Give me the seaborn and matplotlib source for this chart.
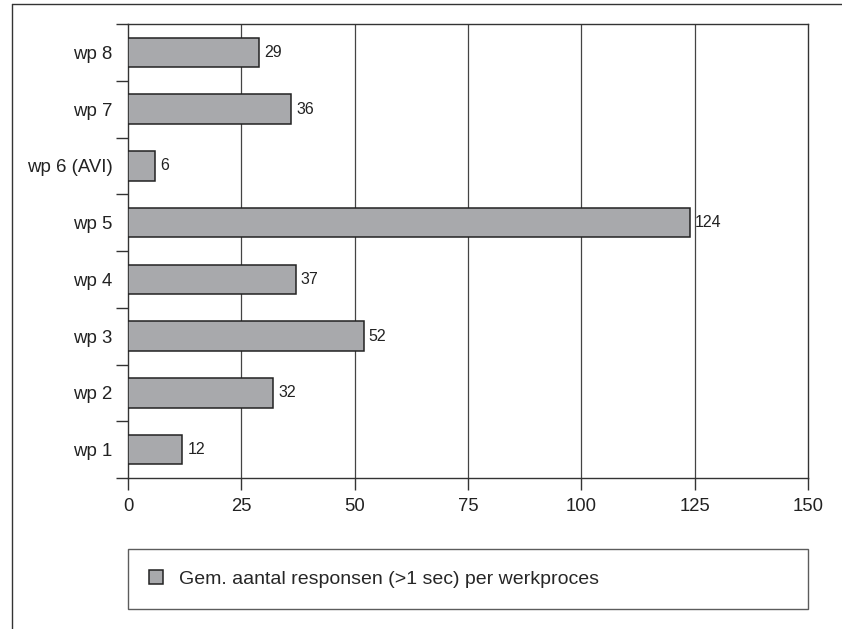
import matplotlib
matplotlib.use("Agg")
import matplotlib.pyplot as plt
from matplotlib.lines import Line2D
import seaborn as sns
import pandas as pd

categories = ["wp 8", "wp 7", "wp 6 (AVI)", "wp 5", "wp 4", "wp 3", "wp 2", "wp 1"]
values = [29, 36, 6, 124, 37, 52, 32, 12]
xticks = [0, 25, 50, 75, 100, 125, 150]
legend_label = "Gem. aantal responsen (>1 sec) per werkproces"

sns.set_theme(style="white")
plt.rcParams["font.family"] = ["Liberation Sans", "DejaVu Sans"]

df = pd.DataFrame({"cat": categories, "val": values})

fig = plt.figure(figsize=(8.42, 6.29), dpi=100)
ax = fig.add_axes([128 / 842, 1 - 478 / 629, (808 - 128) / 842, (478 - 24) / 629])

sns.barplot(data=df, y="cat", x="val", order=categories, color="#a8a9ac",
            saturation=1, edgecolor="#222222", linewidth=1.1, width=0.52,
            orient="h", ax=ax, label=legend_label, zorder=3)

ax.set_xlim(0, 150)
ax.set_ylim(len(categories) - 0.5, -0.5)
ax.set_xticks(xticks)
ax.set_xticklabels([str(t) for t in xticks], fontsize=13.3, color="#222222")
ax.tick_params(axis="x", direction="out", length=8.6, width=1, color="#333333", pad=6, bottom=True)

# y: major ticks on category boundaries, labels via minor ticks at centers
n = len(categories)
ax.set_yticks([i - 0.5 for i in range(n + 1)])
ax.set_yticklabels([""] * (n + 1))
ax.set_yticks(list(range(n)), minor=True)
ax.set_yticklabels(categories, minor=True, fontsize=13.4, color="#222222")
ax.tick_params(axis="y", which="major", direction="out", length=8.6, width=1, color="#333333", left=True)
ax.tick_params(axis="y", which="minor", length=0, pad=11)

ax.set_xlabel("")
ax.set_ylabel("")

for v in xticks[1:-1]:
    ax.axvline(v, color="#444444", lw=0.9, zorder=1)

for s in ax.spines.values():
    s.set_color("#333333")
    s.set_linewidth(1)
    s.set_visible(True)

for c in ax.containers:
    ax.bar_label(c, labels=[str(v) for v in values], padding=3.6, fontsize=11.5, color="#222222")

leg = ax.legend(loc="upper left", bbox_to_anchor=(0, -0.156, 1, 0.0), mode="expand",
                borderaxespad=0, fontsize=14, frameon=True, fancybox=False,
                edgecolor="#333333", handlelength=0.72, handleheight=0.72,
                borderpad=1.1, handletextpad=0.82)
leg.get_frame().set_linewidth(1)
leg.get_frame().set_facecolor("white")

# outer frame (left and top edges)
fig.add_artist(Line2D([12 / 842, 12 / 842], [0, 1 - 4 / 629], transform=fig.transFigure,
                      color="#333333", lw=1))
fig.add_artist(Line2D([12 / 842, 1], [1 - 4 / 629, 1 - 4 / 629], transform=fig.transFigure,
                      color="#333333", lw=1))

fig.savefig("out.png", dpi=100)
